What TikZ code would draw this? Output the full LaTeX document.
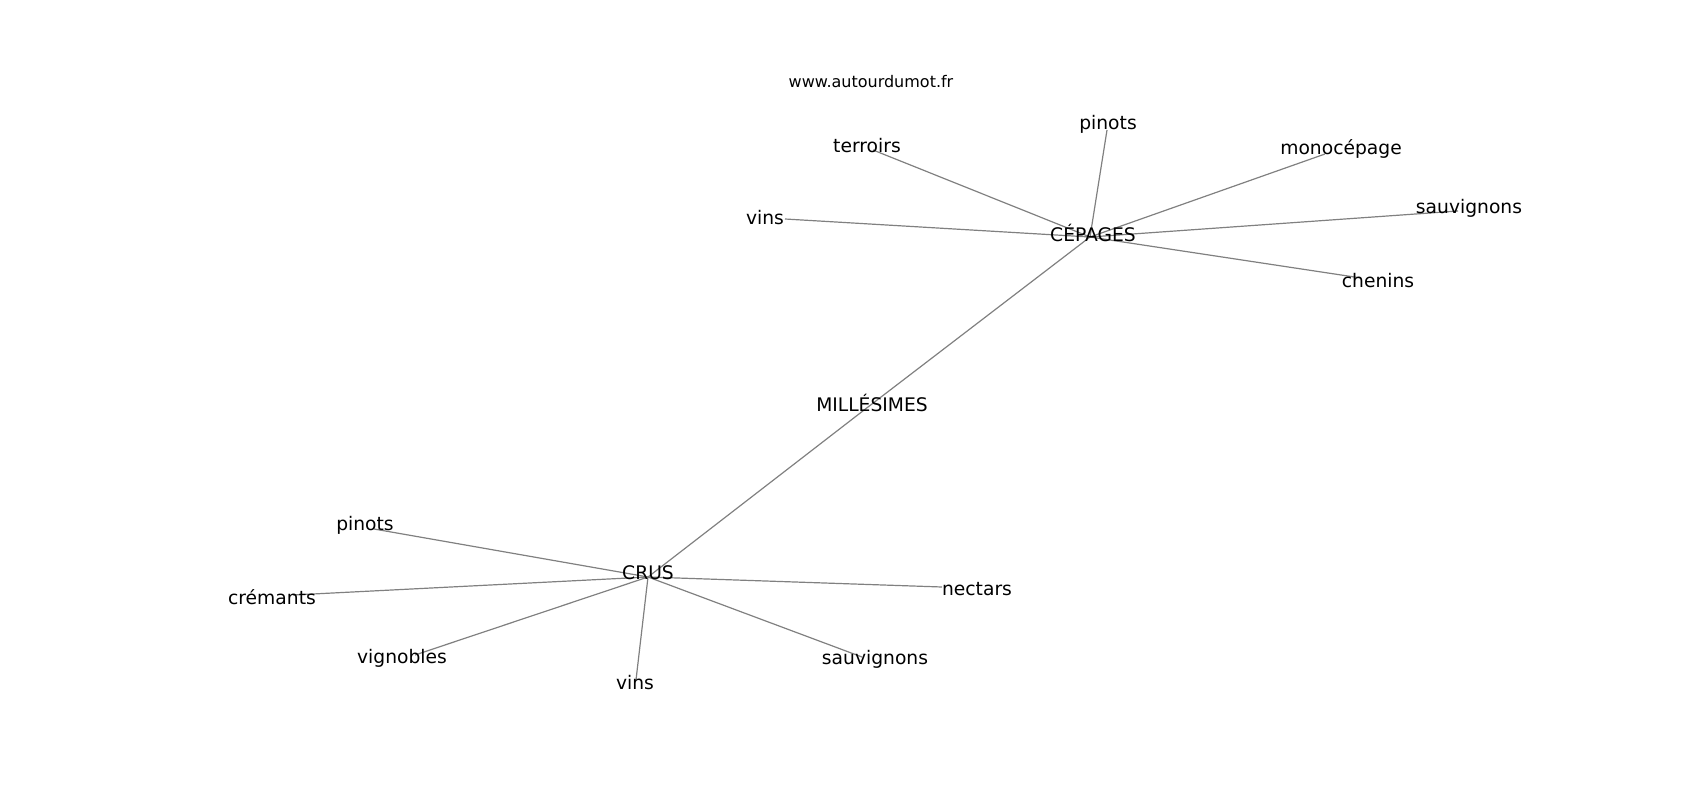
\documentclass[tikz,border=0pt]{standalone}
\usepackage{fontspec}
\setmainfont{DejaVu Sans}
\begin{document}
\begin{tikzpicture}[x=1pt, y=-1pt,
  word/.style={inner sep=0pt, font=\fontsize{18.7}{20}\selectfont},
  edge/.style={draw=black!50, line width=1.2pt}]
        \useasboundingbox (0,0) rectangle (1700,800);
        \node[inner sep=0pt, font=\fontsize{16}{18}\selectfont] (site) at (871,82) {www.autourdumot.fr};
        % points of the graph
        \coordinate (cep) at (1090,237);
        \coordinate (mil) at (868,407);
        \coordinate (cru) at (648,577);
        \coordinate (ter) at (873,150);
        \coordinate (pinA) at (1107,130);
        \coordinate (mon) at (1325,154);
        \coordinate (sauA) at (1458,211);
        \coordinate (vinA) at (785,219);
        \coordinate (che) at (1361,278);
        \coordinate (pinB) at (374,529);
        \coordinate (cre) at (293,595);
        \coordinate (vig) at (415,655);
        \coordinate (vinB) at (636,680);
        \coordinate (sauB) at (862,657);
        \coordinate (nec) at (942,587);
        % edges
        \foreach \a in {ter,pinA,mon,sauA,vinA,che,mil} \draw[edge] (cep)--(\a);
        \foreach \a in {pinB,cre,vig,vinB,sauB,nec,mil} \draw[edge] (cru)--(\a);
        % words
        \node[word] (lcep) at (1093,233) {CÉPAGES};
        \node[word] (lmil) at (872,403) {MILLÉSIMES};
        \node[word] (lcru) at (648,573) {CRUS};
        \node[word] (lter) at (867,146) {terroirs};
        \node[word] (lpinA) at (1108,124) {pinots};
        \node[word] (lmon) at (1341,149) {monocépage};
        \node[word] (lsauA) at (1469,208) {sauvignons};
        \node[word] (lvinA) at (765,218) {vins};
        \node[word] (lche) at (1378,281) {chenins};
        \node[word] (lpinB) at (365,525) {pinots};
        \node[word] (lcre) at (272,597) {crémants};
        \node[word] (lvig) at (402,658) {vignobles};
        \node[word] (lvinB) at (635,683) {vins};
        \node[word] (lsauB) at (875,659) {sauvignons};
        \node[word] (lnec) at (977,589) {nectars};
\end{tikzpicture}
\end{document}
